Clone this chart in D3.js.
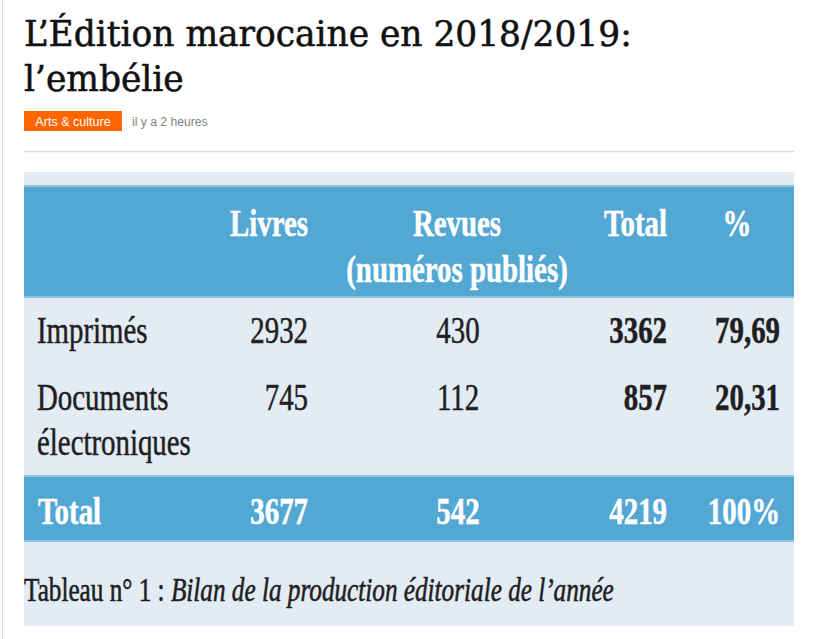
<!DOCTYPE html>
<html><head><meta charset="utf-8">
<script src="https://cdn.jsdelivr.net/npm/d3@7/dist/d3.min.js"></script>
<style>body{margin:0;background:#fff}</style></head>
<body>
<script>
// ---- data ----
const titleLines = ["L\u2019\u00c9dition marocaine en 2018/2019:", "l\u2019emb\u00e9lie"];
const category = "Arts & culture";
const timeAgo = "il y a 2 heures";
const columnKeys = ["livres", "revues", "total", "pct"];
const columnHeads = ["Livres", "Revues", "Total", "%"];
const columnSubHeads = ["", "(num\u00e9ros publi\u00e9s)", "", ""];
const rowLabels = [["Imprim\u00e9s"], ["Documents", "\u00e9lectroniques"]];
const livres = [2932, 745];
const revues = [430, 112];
const totals = [3362, 857];
const percents = ["79,69", "20,31"];
const totalLabel = "Total";
const totalValues = [3677, 542, 4219, "100%"];
const captionPlain = "Tableau n\u00b0 1 : ";
const captionItalic = "Bilan de la production \u00e9ditoriale de l\u2019ann\u00e9e";

// ---- layout ----
const W = 814, H = 639;
const svg = d3.select("body").append("svg").attr("width", W).attr("height", H)
  .style("display", "block");

const sans = "'Liberation Sans', Arial, sans-serif";
const serif = "'Liberation Serif', 'Times New Roman', serif";

// left page border
svg.append("line").attr("x1", 2.5).attr("x2", 2.5).attr("y1", 0).attr("y2", H)
  .attr("stroke", "#dedede").attr("stroke-width", 1);

// title
const titleG = svg.append("g");
const tl = titleG.selectAll("text").data(titleLines).join("text")
  .attr("font-family", "'DejaVu Serif Condensed', 'DejaVu Serif', serif")
  .attr("font-stretch", "condensed")
  .attr("font-size", 35)
  .attr("fill", "#111")
  .attr("stroke", "#111").attr("stroke-width", 0.5)
  .text(d => d);
const w0 = tl.nodes()[0].getComputedTextLength();
const tk = 608 / w0;
tl.attr("transform", (d, i) => `translate(24,${46 + i * 45}) scale(${tk},1)`);

// category tag
svg.append("rect").attr("x", 24).attr("y", 111).attr("width", 98).attr("height", 20)
  .attr("fill", "#ff6600");
svg.append("text").attr("x", 73).attr("y", 126).attr("text-anchor", "middle")
  .attr("font-family", sans).attr("font-size", 13.5).attr("fill", "#fff")
  .attr("transform", "translate(73,0) scale(0.93,1) translate(-73,0)")
  .text(category);
svg.append("text").attr("x", 132).attr("y", 126)
  .attr("font-family", sans).attr("font-size", 13.5).attr("fill", "#808080")
  .attr("transform", "translate(132,0) scale(0.9,1) translate(-132,0)")
  .text(timeAgo);

// separator rule
svg.append("line").attr("x1", 24).attr("x2", 794).attr("y1", 151.5).attr("y2", 151.5)
  .attr("stroke", "#dcdcdc").attr("stroke-width", 1.5);

// table background
const tx0 = 24, tx1 = 794, ty0 = 172, ty1 = 626;
svg.append("rect").attr("x", tx0).attr("y", ty0).attr("width", tx1 - tx0).attr("height", ty1 - ty0)
  .attr("fill", "#e3ecf5");
const bands = [[185, 298], [475, 542]];
bands.forEach(([a, b]) => {
  svg.append("rect").attr("x", tx0).attr("y", a).attr("width", tx1 - tx0).attr("height", b - a)
    .attr("fill", "#52a7d3");
  svg.append("rect").attr("x", tx0).attr("y", a).attr("width", tx1 - tx0).attr("height", 2)
    .attr("fill", "#8cc3e3");
  svg.append("rect").attr("x", tx0).attr("y", b - 2).attr("width", tx1 - tx0).attr("height", 2)
    .attr("fill", "#8cc3e3");
});

// scales
const xHead = d3.scaleOrdinal().domain(columnKeys).range([308, 457, 667, 737]);
const anchorHead = d3.scaleOrdinal().domain(columnKeys).range(["end", "middle", "end", "middle"]);
const xVal = d3.scaleOrdinal().domain(columnKeys).range([308, 458, 667, 780]);
const anchorVal = d3.scaleOrdinal().domain(columnKeys).range(["end", "middle", "end", "end"]);
const boldVal = d3.scaleOrdinal().domain(columnKeys).range([false, false, true, true]);
const yRow = d3.scaleOrdinal().domain(["head", "sub", "r0", "r1", "total"]).range([236, 282, 343, 410, 524]);
const lineStep = 45;
const K = 0.78, FS = 37;
const dark = "#221e1f";

function cell(g, x, y, txt, opts) {
  const fill = opts.fill || dark;
  return g.append("text")
    .attr("transform", `translate(${x},${y}) scale(${opts.k || K},1)`)
    .attr("text-anchor", opts.anchor || "start")
    .attr("font-family", serif)
    .attr("font-size", opts.size || FS)
    .attr("font-weight", opts.bold ? "bold" : "normal")
    .attr("font-style", opts.italic ? "italic" : "normal")
    .attr("fill", fill)
    .attr("stroke", fill).attr("stroke-width", 0.5)
    .text(txt);
}

const tg = svg.append("g");
// header
columnKeys.forEach((k, i) => {
  cell(tg, xHead(k), yRow("head"), columnHeads[i], {anchor: anchorHead(k), bold: true, fill: "#fff"});
  if (columnSubHeads[i]) cell(tg, xHead(k), yRow("sub"), columnSubHeads[i], {anchor: anchorHead(k), bold: true, fill: "#fff"});
});
// body rows
const series = {livres, revues, total: totals, pct: percents};
rowLabels.forEach((lab, r) => {
  const y = yRow("r" + r);
  lab.forEach((t, j) => cell(tg, 37, y + j * lineStep, t, {}));
  columnKeys.forEach(k => {
    cell(tg, xVal(k), y, String(series[k][r]), {anchor: anchorVal(k), bold: boldVal(k)});
  });
});
// total row
cell(tg, 38, yRow("total"), totalLabel, {bold: true, fill: "#fff"});
columnKeys.forEach((k, i) => {
  cell(tg, xVal(k), yRow("total"), String(totalValues[i]), {anchor: anchorVal(k), bold: true, fill: "#fff"});
});

// caption
const cap = svg.append("text")
  .attr("font-family", serif).attr("font-size", 34).attr("fill", dark)
  .attr("stroke", dark).attr("stroke-width", 0.6);
cap.append("tspan").text(captionPlain);
cap.append("tspan").attr("font-style", "italic").text(captionItalic);
const cw = cap.node().getComputedTextLength();
cap.attr("transform", `translate(24,601) scale(${590 / cw},1)`);
</script>
</body></html>
